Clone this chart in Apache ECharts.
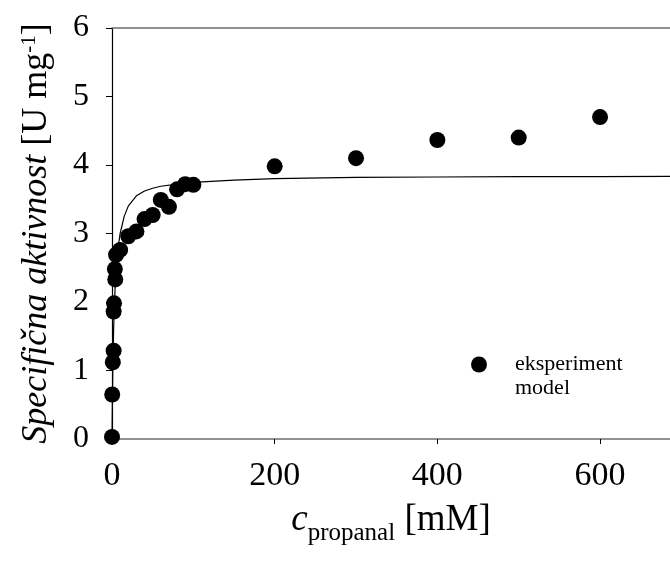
<!DOCTYPE html>
<html>
<head>
<meta charset="utf-8">
<script src="https://cdn.jsdelivr.net/npm/echarts@6/dist/echarts.min.js"></script>
<style>
html,body{margin:0;padding:0;background:#fff;}
#chart{width:670px;height:571px;}
</style>
</head>
<body>
<div id="chart"></div>
<script>
// Experimental data (c propanal [mM], specific activity [U/mg])
var expX = [0, 0.25, 1, 2, 2, 2.5, 4, 3.5, 5, 10, 20, 30, 40, 50, 60, 70, 80, 90, 100, 200, 300, 400, 500, 600];
var expY = [0.03, 0.65, 1.12, 1.29, 1.86, 1.98, 2.33, 2.48, 2.69, 2.76, 2.96, 3.03, 3.21, 3.27, 3.49, 3.39, 3.645, 3.72, 3.71, 3.98, 4.10, 4.365, 4.40, 4.70];
// Model curve
var modelX = [0, 0.5, 1, 2, 3, 4, 5, 7, 10, 15, 20, 30, 40, 50, 60, 80, 100, 150, 200, 300, 400, 500, 600, 700];
var modelY = [0, 0.58, 1.01, 1.6, 1.99, 2.26, 2.47, 2.75, 3.0, 3.25, 3.4, 3.55, 3.62, 3.66, 3.69, 3.72, 3.745, 3.78, 3.80, 3.82, 3.825, 3.83, 3.83, 3.835];
var xTicks = [0, 200, 400, 600];
var yTicks = [0, 1, 2, 3, 4, 5, 6];
var legendNames = ['eksperiment', 'model'];

var FONT = '"Liberation Serif", "Times New Roman", serif';
var expData = expX.map(function (x, i) { return [x, expY[i]]; });
var modelData = modelX.map(function (x, i) { return [x, modelY[i]]; });

var chart = echarts.init(document.getElementById('chart'));
chart.setOption({
  animation: false,
  backgroundColor: '#fff',
  grid: { left: 112, top: 28, right: 0, bottom: 132, containLabel: false },
  legend: {
    orient: 'vertical',
    left: 442,
    top: 348,
    itemWidth: 62,
    itemHeight: 16,
    itemGap: 1,
    selectedMode: false,
    textStyle: { fontFamily: FONT, fontSize: 22, color: '#000', lineHeight: 23 },
    data: [
      { name: legendNames[0], icon: 'circle', itemStyle: { color: '#000', opacity: 1 } },
      { name: legendNames[1], itemStyle: { opacity: 0 }, lineStyle: { opacity: 0 } }
    ]
  },
  xAxis: [{
    type: 'value',
    min: 0,
    max: 686,
    interval: 200,
    position: 'bottom',
    splitLine: { show: false },
    axisLine: { show: true, onZero: false, lineStyle: { color: '#6e6e6e', width: 1.5 } },
    axisTick: { show: true, length: 5, lineStyle: { color: '#000' },
      customValues: xTicks },
    axisLabel: {
      fontFamily: FONT, fontSize: 34, color: '#000', margin: 20,
      customValues: xTicks,
      formatter: function (v) { return xTicks.indexOf(v) >= 0 ? String(v) : ''; }
    },
    name: '{i|c}{sub|propanal}{r| [mM]}',
    nameLocation: 'middle',
    nameGap: 63,
    nameTextStyle: {
      rich: {
        i: { fontFamily: FONT, fontStyle: 'italic', fontSize: 37, color: '#000', lineHeight: 37, verticalAlign: 'top' },
        sub: { fontFamily: FONT, fontSize: 25, color: '#000', lineHeight: 25, padding: [19, 0, 0, 0], verticalAlign: 'top' },
        r: { fontFamily: FONT, fontSize: 37, color: '#000', lineHeight: 37, verticalAlign: 'top' }
      }
    }
  }, {
    type: 'value',
    min: 0,
    max: 686,
    position: 'top',
    splitLine: { show: false },
    axisLine: { show: true, onZero: false, lineStyle: { color: '#6e6e6e', width: 1.5 } },
    axisTick: { show: false },
    axisLabel: { show: false }
  }],
  yAxis: {
    type: 'value',
    min: 0,
    max: 6,
    interval: 1,
    splitLine: { show: false },
    axisLine: { show: true, onZero: false, lineStyle: { color: '#000', width: 1.2 } },
    axisTick: { show: true, length: 6, lineStyle: { color: '#000' } },
    axisLabel: { fontFamily: FONT, fontSize: 32, color: '#000', margin: 23,
      formatter: function (v) { return yTicks.indexOf(v) >= 0 ? String(v) : ''; } },
    name: '{i|Specifična aktivnost }{r|[U mg}{sup|-1}{r|]}',
    nameLocation: 'middle',
    nameRotate: 90,
    nameGap: 57,
    nameTextStyle: {
      rich: {
        i: { fontFamily: FONT, fontStyle: 'italic', fontSize: 36, color: '#000', lineHeight: 36, verticalAlign: 'bottom' },
        r: { fontFamily: FONT, fontSize: 36, color: '#000', lineHeight: 36, verticalAlign: 'bottom' },
        sup: { fontFamily: FONT, fontSize: 21, color: '#000', lineHeight: 21, padding: [0, 0, 21, 0], verticalAlign: 'top' }
      }
    }
  },
  series: [{
    name: legendNames[0],
    type: 'scatter',
    data: expData,
    symbol: 'circle',
    symbolSize: 16,
    itemStyle: { color: '#000', opacity: 1 },
    z: 2
  }, {
    name: legendNames[1],
    type: 'line',
    data: modelData,
    showSymbol: false,
    symbol: 'none',
    lineStyle: { color: '#000', width: 1.2 },
    itemStyle: { color: '#000' },
    clip: true,
    z: 3
  }]
});
</script>
</body>
</html>
